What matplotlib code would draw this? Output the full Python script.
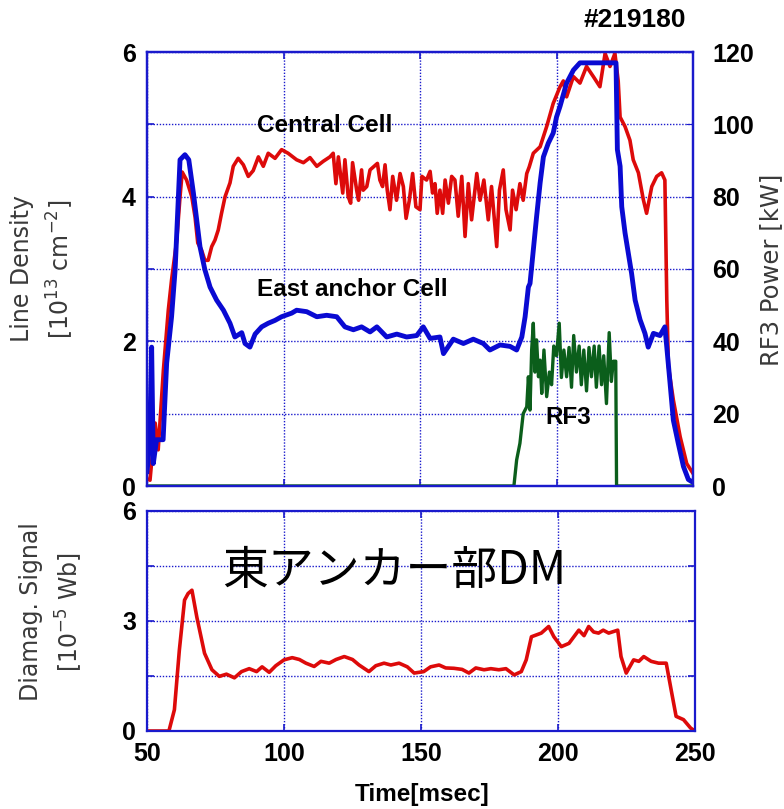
import matplotlib
matplotlib.use("Agg")
import matplotlib.pyplot as plt
from matplotlib.ticker import MultipleLocator, FixedLocator

# ---------------- data ----------------
central_t = [50, 51.1, 53, 54.1, 56, 57.8, 59, 60.9, 62.1, 62.9, 64.5, 66.4, 67.6, 68.6, 70, 71.2,
             72.4, 73.7, 74.9, 76.1, 77.3, 78.6, 80.4, 81.6, 83.4, 85.3, 87.1, 88.9, 90.8, 92.6,
             94.4, 96.9, 99.3, 101.7, 102.4, 104.8, 107.3, 109.7, 112.2, 114.6,
             117.0, 118.2, 119.2, 120.1, 121.7, 122.5, 123.7, 124.6, 125.3, 126.8, 127.5, 128.6,
             129.2, 130.5, 131.7, 132.9, 134.4, 135.3, 136.3, 137.2, 138.0, 139.0, 140.0, 141.4,
             142.7, 143.9, 144.9, 146.1, 147.3, 148.5, 150.0, 150.7, 152.4, 153.7, 154.6, 155.5,
             156.3, 157.3, 158.3, 159.2, 160.4, 161.6, 162.8, 164.0, 165.3, 166.5, 167.7, 168.9,
             170.8, 172.0, 173.4, 175.0, 176.2, 178.1, 179.1, 180.5, 181.5, 183.0, 183.9, 185.2,
             186.6, 187.8, 189.1, 190.0,
             191.5, 194, 196.4, 198.8, 201.3, 202.5, 203.7,
             206.2, 208.6, 211, 213.5, 215.9, 217.8, 219.6, 221.4, 222.6, 223.3, 225.1, 226.9,
             228.1, 230, 231.8, 233, 234.9, 236.7, 238.5, 239.7, 240.4, 241, 242.8, 245.3,
             247.7, 249.9]
central_v = [0.1, 0.08, 0.87, 0.5, 1.6, 2.43, 2.85, 3.4, 4.0, 4.34, 4.23, 4.0, 3.72, 3.36, 3.26, 3.12,
             3.12, 3.31, 3.4, 3.54, 3.77, 4.0, 4.19, 4.42, 4.53, 4.44, 4.28, 4.36, 4.55, 4.42,
             4.6, 4.53, 4.65, 4.6, 4.58, 4.51, 4.47, 4.54, 4.42, 4.49,
             4.55, 4.6, 4.18, 4.55, 4.05, 4.51, 4.0, 3.91, 4.47, 4.09, 3.95, 4.37,
             4.09, 4.14, 4.37, 4.41, 4.46, 4.23, 4.14, 4.44, 4.09, 3.82, 4.28, 3.95,
             4.32, 4.14, 3.7, 3.95, 4.32, 3.86, 3.82, 4.28, 4.23, 4.35, 4.05, 4.18,
             3.77, 4.09, 3.77, 4.23, 3.91, 4.28, 4.23, 3.73, 4.28, 3.45, 4.18, 3.68,
             4.32, 3.95, 4.23, 3.68, 4.14, 3.31, 4.09, 4.37, 3.82, 3.54, 4.09, 3.82,
             4.18, 3.95, 4.32, 4.41,
             4.6, 4.69, 4.97, 5.29, 5.52, 5.6, 5.38,
             5.66, 5.57, 5.8, 5.66, 5.52, 5.98, 5.8, 5.98, 5.6, 5.1, 4.97, 4.78,
             4.51, 4.33, 3.96, 3.77, 4.14, 4.28, 4.33, 4.23, 2.57, 1.65, 1.19, 0.68,
             0.31, 0.18]

east_t = [50, 50.3, 51.1, 51.7, 52.3, 53.5, 55.9, 57.2, 59, 60.3, 61.5, 62.1, 63.9, 65.3, 67, 68.2,
          69.4, 71.2, 73.1, 75.5, 78, 80.4, 82.2, 84.7, 85.9, 87.7, 89.6, 92, 94.4, 96.9, 99.3,
          103, 104.8, 108.5, 112.2, 115.8, 119.5, 122.5, 125.6, 128.6, 131.7, 134.2, 137.8,
          141.5, 145.1, 148.8, 151.2, 153.7, 157.3, 158.6, 162.2, 165.9, 169.5, 173.2, 175.6,
          179.3, 183, 185.4, 187.3, 188.5, 189.7, 190.3, 191.5, 192.7, 194, 195.2, 197, 198.8,
          200, 201.3, 203.7, 206.2, 208.6, 215.9, 221.8, 222.3, 223.3, 223.9, 225.1, 226.3,
          227.5, 228.8, 230.6, 232.4, 233.6, 235.5, 237.9, 239.7, 240.4, 241.6, 242.8, 244.6,
          246.5, 248.3, 250]
east_v = [0.2, 0.31, 0.87, 1.92, 0.31, 0.64, 0.64, 1.7, 2.34, 2.99, 4.0, 4.51, 4.58, 4.51, 4.05, 3.68,
          3.31, 2.99, 2.75, 2.57, 2.43, 2.25, 2.06, 2.12, 1.97, 1.92, 2.1, 2.2, 2.25, 2.29, 2.34,
          2.39, 2.43, 2.41, 2.34, 2.36, 2.34, 2.2, 2.16, 2.2, 2.13, 2.2, 2.06,
          2.1, 2.06, 2.08, 2.2, 2.04, 2.06, 1.83, 2.03, 1.97, 2.03, 1.97, 1.88,
          1.95, 1.93, 1.88, 2.06, 2.34, 2.75, 2.8, 3.26, 3.72, 4.19, 4.55, 4.74, 4.88,
          5.1, 5.25, 5.57, 5.75, 5.85, 5.85, 5.85, 4.65, 4.42, 3.86, 3.5, 3.22,
          2.94, 2.57, 2.3, 2.11, 1.92, 2.11, 2.08, 2.2, 1.92, 1.42, 0.91, 0.59,
          0.27, 0.09, 0.05]

rf3_t = [50, 184.4, 185.4, 186.6, 187.8, 189.1, 189.7, 190.3, 190.9, 191.5, 192.1, 192.7, 193.4,
         194, 194.6, 195.4, 196.4, 197.4, 198.2, 199, 200, 201, 201.8, 202.7, 203.7, 204.6,
         205.5, 206.3, 207.3, 208.3, 209.1, 210, 211, 211.9, 212.8, 213.8, 214.6, 215.6,
         216.5, 217.3, 218.3, 219.3, 220.1, 220.8, 221.7, 222, 250]
rf3_kw = [0, 0, 7.2, 11.8, 20, 21.9, 30.2, 21, 37.6, 45, 31.5, 40.4, 30.2,
          34.8, 25.6, 37.6, 24.7, 31.5, 28, 38.7, 36, 45, 30, 37.6, 30.2, 38.3,
          27.3, 41.6, 31.5, 38.7, 28, 37.6, 26.3, 38.3, 30.2, 38.7, 27.3, 38.7,
          28, 36, 22.8, 42.4, 28.9, 34.5, 34.5, 0, 0]

dm_t = [50, 58, 60, 61.8, 63.7, 65, 66.4, 68.2, 71, 73.7, 76.4, 79, 81.9, 84.5, 87.3, 90, 92, 94.6,
        97, 100, 103, 105.6, 108, 111, 113.5, 116.5, 119, 122, 125, 127.4, 131, 133.5, 136.5,
        139, 142, 145, 147.5, 151, 153.5, 156.6, 159, 162, 165, 167.5, 170, 173, 175.5, 178.4,
        181, 184, 186.6, 188.4, 190.3, 193.9, 196.6, 198.5, 201.2, 204, 207.6, 209.5, 211.2,
        213, 214.8, 216.5, 218.5, 221.8, 223, 224.9, 227.6, 229.5, 231.3, 234, 236.7, 239.5,
        241.3, 243.1, 245.8, 248.4, 250]
dm_v = [0, 0, 0.58, 2.2, 3.57, 3.75, 3.84, 3.1, 2.12, 1.67, 1.49, 1.55, 1.45, 1.62, 1.7, 1.62, 1.75, 1.6,
        1.78, 1.94, 2.0, 1.95, 1.85, 1.76, 1.9, 1.85, 1.95, 2.03, 1.95, 1.8, 1.62, 1.78, 1.85,
        1.8, 1.85, 1.75, 1.58, 1.62, 1.75, 1.8, 1.72, 1.71, 1.68, 1.58, 1.72, 1.67, 1.7, 1.67,
        1.7, 1.53, 1.62, 1.94, 2.57, 2.67, 2.85, 2.57, 2.3, 2.39, 2.75, 2.6, 2.85,
        2.7, 2.67, 2.75, 2.67, 2.75, 2.03, 1.58, 1.94, 1.9, 2.03, 1.9, 1.85, 1.85,
        1.12, 0.4, 0.31, 0.08, 0]

x_ticks = [50, 100, 150, 200, 250]
dens_ticks = [0, 2, 4, 6]
rf_ticks = [0, 20, 40, 60, 80, 100, 120]
dm_ticks = [0, 3, 6]

# ---------------- style ----------------
BLUE_AX = "#1a1acc"
RED = "#dd0a0a"
BLUE = "#0a0ad2"
GREEN = "#0b5e1b"
TICKFONT = dict(family="Liberation Sans", weight="bold", size=18)
LABELFONT = dict(family="DejaVu Sans", size=17, color="#3a3a3a")
ANNOT = dict(family="Liberation Sans", weight="bold", size=17.5, color="black")
plt.rcParams["mathtext.default"] = "regular"

W, H = 784, 809
fig = plt.figure(figsize=(W / 100, H / 100), dpi=100)


def px_rect(l, t, r, b):
    return [l / W, 1 - b / H, (r - l) / W, (b - t) / H]


def fig_text(x, y, s, **kw):
    fig.text(x / W, 1 - y / H, s, ha="center", va="center", **kw)


def style_axes(ax):
    for s in ax.spines.values():
        s.set_color(BLUE_AX)
        s.set_linewidth(1.6)
        s.set_zorder(5)
    ax.grid(True, which="both", color=BLUE_AX, linestyle=(0, (1, 1.2)), linewidth=1.0)
    ax.tick_params(which="both", direction="in", color=BLUE_AX, length=5, width=1.2,
                   top=True, right=True)
    ax.set_axisbelow(True)


# ---------------- top panel ----------------
ax1 = fig.add_axes(px_rect(147, 52, 693, 486))
ax1.plot(central_t, central_v, color=RED, lw=2.6, zorder=3)
ax1.plot(east_t, east_v, color=BLUE, lw=3.5, zorder=3)
ax1.set_xlim(50, 250)
ax1.set_ylim(0, 6)
ax1.xaxis.set_major_locator(FixedLocator(x_ticks))
ax1.yaxis.set_major_locator(FixedLocator(dens_ticks))
ax1.yaxis.set_minor_locator(MultipleLocator(1))
style_axes(ax1)
ax1.tick_params(axis="x", labelbottom=False)
ax1.set_yticklabels([str(v) for v in dens_ticks], fontdict=TICKFONT)
ax1.tick_params(axis="y", pad=8)

ax1r = ax1.twinx()
ax1r.plot(rf3_t, rf3_kw, color=GREEN, lw=2.4, zorder=2)
ax1r.set_ylim(0, 120)
ax1r.yaxis.set_major_locator(FixedLocator(rf_ticks))
ax1r.set_yticklabels([str(v) for v in rf_ticks], fontdict=TICKFONT)
ax1r.tick_params(axis="y", direction="in", color=BLUE_AX, length=5, pad=14)
for s in ax1r.spines.values():
    s.set_color(BLUE_AX)
    s.set_linewidth(1.6)

fig_text(325, 126, "Central Cell", **ANNOT)
fig_text(352, 290, "East anchor Cell", **ANNOT)
fig_text(568, 418, "RF3", **ANNOT)
fig_text(635, 20, "#219180", family="Liberation Sans", weight="bold", size=19)

fig_text(22, 269, "Line Density", rotation=90, **LABELFONT)
fig_text(60, 269, "[10$^{13}$ cm$^{-2}$]", rotation=90, **LABELFONT)
fig_text(771, 270, "RF3 Power [kW]", rotation=90, family="DejaVu Sans", size=17.5,
         color="#3a3a3a")

# ---------------- bottom panel ----------------
ax2 = fig.add_axes(px_rect(147, 511, 695, 731))
ax2.plot(dm_t, dm_v, color=RED, lw=2.6, zorder=3)
ax2.set_xlim(50, 250)
ax2.set_ylim(0, 6)
ax2.xaxis.set_major_locator(FixedLocator(x_ticks))
ax2.yaxis.set_major_locator(FixedLocator(dm_ticks))
ax2.yaxis.set_minor_locator(MultipleLocator(1.5))
style_axes(ax2)
ax2.set_xticklabels([str(v) for v in x_ticks], fontdict=TICKFONT)
ax2.set_yticklabels([str(v) for v in dm_ticks], fontdict=TICKFONT)
ax2.tick_params(axis="y", pad=8)
ax2.tick_params(axis="x", pad=8)
fig_text(394, 571, "東アンカー部DM", family=["Noto Sans CJK JP", "DejaVu Sans"], size=33,
         color="black")

fig_text(31, 612, "Diamag. Signal", rotation=90, **LABELFONT)
fig_text(69, 612, "[10$^{-5}$ Wb]", rotation=90, **LABELFONT)

fig_text(422, 795, "Time[msec]", family="Liberation Sans", weight="bold", size=17.5)

fig.savefig("out.png", dpi=100)
